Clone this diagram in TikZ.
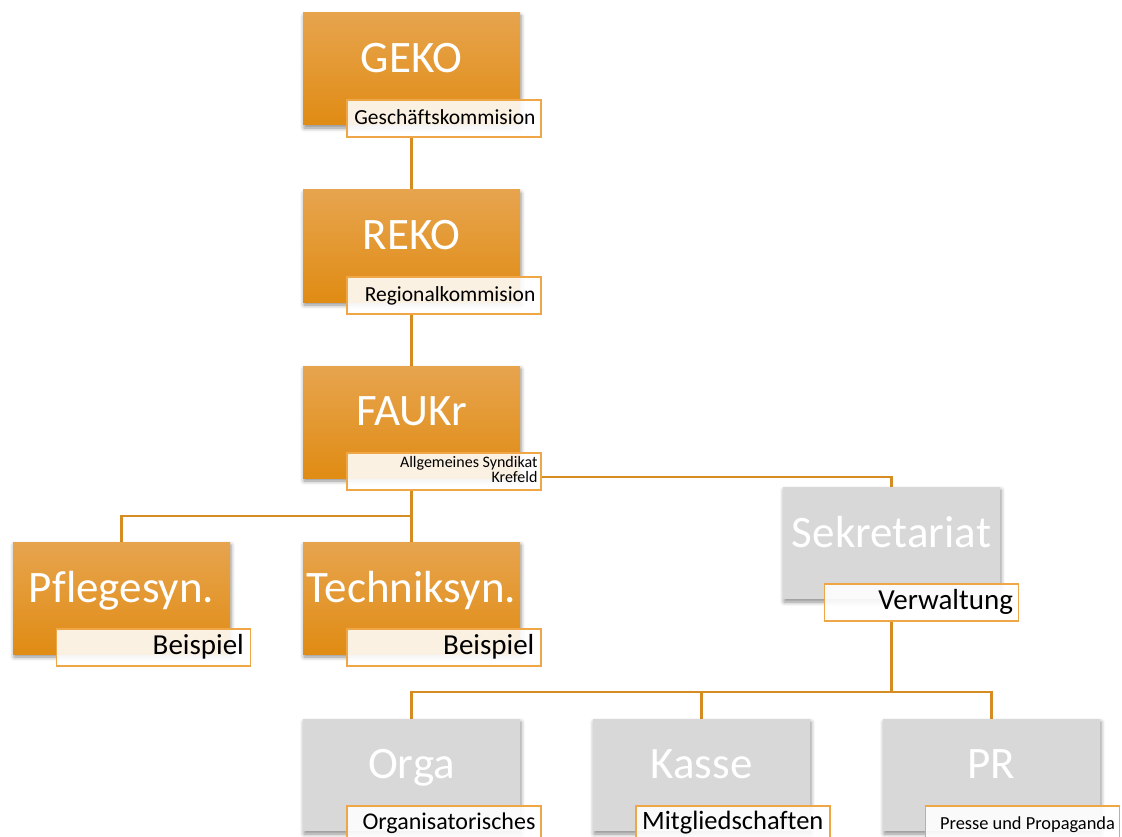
\documentclass[tikz,border=0pt]{standalone}
\usepackage{fontspec}
\setmainfont[Ligatures=NoCommon]{Carlito}
\usetikzlibrary{shadows.blur,backgrounds}
\definecolor{otop}{HTML}{E7A44E}
\definecolor{obot}{HTML}{E08C14}
\definecolor{gbox}{HTML}{D8D8D8}
\definecolor{conn}{HTML}{D58C22}
\definecolor{lborder}{HTML}{EEA647}
\tikzset{
  box/.style={rectangle, minimum width=217pt, minimum height=112pt, inner sep=0pt,
    blur shadow={shadow xshift=1pt, shadow yshift=-3pt, shadow blur radius=4pt, shadow opacity=45}},
  obox/.style={box, top color=otop, bottom color=obot},
  gbox/.style={box, fill=gbox},
  btext/.style={anchor=base, text=white, font=\fontsize{45}{50}\selectfont, inner sep=0pt},
  lbox/.style={rectangle, draw=lborder, line width=1.2pt, fill=white, fill opacity=0.88,
    minimum width=194pt, minimum height=37pt, inner sep=0pt},
  ltext/.style={anchor=base east, text=black, inner sep=0pt, align=right},
  connector/.style={draw=conn, line width=2.5pt}
}
\begin{document}
\begin{tikzpicture}[x=1pt,y=-1pt]
\useasboundingbox (0,0) rectangle (1122,837);
\clip (0,0) rectangle (1122,837);
% boxes
\node[obox] (geko) at (411.5,69) {};
\node[obox] (reko) at (411.5,246) {};
\node[obox] (fau) at (411.5,422) {};
\node[obox] (pflege) at (121.5,598) {};
\node[obox] (technik) at (411.5,598) {};
\node[gbox] (sekr) at (891.5,543) {};
\node[gbox] (orga) at (411.5,775) {};
\node[gbox] (kasse) at (701.5,775) {};
\node[gbox] (pr) at (991.5,775) {};
% label boxes
\node[lbox] (gekoL) at (444,118.5) {};
\node[lbox] (rekoL) at (444,295.5) {};
\node[lbox] (fauL) at (444,471.5) {};
\node[lbox] (pflegeL) at (153.5,647.5) {};
\node[lbox] (technikL) at (444,647.5) {};
\node[lbox] (sekrL) at (921.5,602.5) {};
\node[lbox] (orgaL) at (444,824.5) {};
\node[lbox] (kasseL) at (733,824.5) {};
\node[lbox] (prL) at (1022.5,824.5) {};
% connectors
\coordinate (j1) at (411.5,516);
\coordinate (j2) at (891.5,692);
\begin{pgfonlayer}{background}
\draw[connector] (geko.south |- gekoL.south) -- (reko.north);
\draw[connector] (reko.south |- rekoL.south) -- (fau.north);
\draw[connector] (fau.south |- fauL.south) -- (technik.north);
\draw[connector] (j1) -| (pflege.north);
\draw[connector] ([yshift=-5.5pt]fauL.east) -| (sekr.north);
\draw[connector] (sekr.south |- sekrL.south) -- (j2);
\draw[connector] (j2) -| (orga.north);
\draw[connector] (j2) -| (kasse.north);
\draw[connector] (j2) -| (pr.north);
\end{pgfonlayer}
% main texts
\node[btext] (gekoT) at ([yshift=-60pt]geko.north) {GEKO};
\node[btext] (rekoT) at ([yshift=-60pt]reko.north) {REKO};
\node[btext] (fauT) at ([yshift=-60pt]fau.north) {FAUKr};
\node[btext] (pflegeT) at ([yshift=-61pt]pflege.north) {Pflegesyn.};
\node[btext] (technikT) at ([yshift=-61pt]technik.north) {Techniksyn.};
\node[btext] (sekrT) at ([yshift=-61pt]sekr.north) {Sekretariat};
\node[btext] (orgaT) at ([yshift=-60pt]orga.north) {Orga};
\node[btext] (kasseT) at ([yshift=-60pt]kasse.north) {Kasse};
\node[btext] (prT) at ([yshift=-60pt]pr.north) {PR};
% label texts
\node[ltext, font=\fontsize{21.5}{24}\selectfont] (gekoLT) at ([xshift=-6pt, yshift=-25pt]gekoL.north east) {Geschäftskommision};
\node[ltext, font=\fontsize{21.5}{24}\selectfont] (rekoLT) at ([xshift=-6pt, yshift=-25pt]rekoL.north east) {Regionalkommision};
\node[ltext, font=\fontsize{16}{15}\selectfont] (fauLT) at ([xshift=-4pt, yshift=-30pt]fauL.north east) {Allgemeines Syndikat\\Krefeld};
\node[ltext, font=\fontsize{29}{32}\selectfont] (pflegeLT) at ([xshift=-7pt, yshift=-26pt]pflegeL.north east) {Beispiel};
\node[ltext, font=\fontsize{29}{32}\selectfont] (technikLT) at ([xshift=-7pt, yshift=-26pt]technikL.north east) {Beispiel};
\node[ltext, font=\fontsize{29}{32}\selectfont] (sekrLT) at ([xshift=-6pt, yshift=-26pt]sekrL.north east) {Verwaltung};
\node[ltext, font=\fontsize{24}{28}\selectfont] (orgaLT) at ([xshift=-6pt, yshift=-24pt]orgaL.north east) {Organisatorisches};
\node[ltext, font=\fontsize{26.5}{30}\selectfont] (kasseLT) at ([xshift=-7pt, yshift=-24pt]kasseL.north east) {Mitgliedschaften};
\node[ltext, font=\fontsize{18.4}{21}\selectfont] (prLT) at ([xshift=-5pt, yshift=-24pt]prL.north east) {Presse und Propaganda};
\end{tikzpicture}
\end{document}
